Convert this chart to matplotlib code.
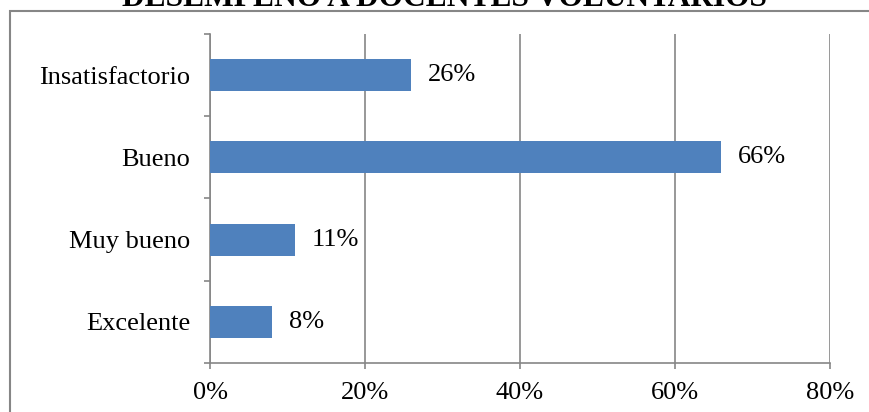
"""Horizontal bar chart: desempeño a docentes voluntarios."""

import matplotlib.pyplot as plt
from matplotlib.patches import Rectangle
from matplotlib.ticker import FixedLocator, PercentFormatter

categories = ["Excelente", "Muy bueno", "Bueno", "Insatisfactorio"]
values = [8, 11, 66, 26]
xticks = [0, 20, 40, 60, 80]
title = "DESEMPEÑO A DOCENTES VOLUNTARIOS"

bar_color = "#4F81BD"
grey = "#868686"
plt.rcParams["font.family"] = ["Liberation Serif", "DejaVu Serif"]

fig = plt.figure(figsize=(8.69, 4.12), dpi=100)
ax = fig.add_axes([0.2417, 0.119, 0.955 - 0.2417, 0.9175 - 0.119])

# chart-area border (cut off at right and bottom, as in the source)
fig.patches.append(Rectangle((0.0115, -0.05), 1.2, 1.05 - 11 / 412,
                             transform=fig.transFigure, fill=False,
                             edgecolor=grey, linewidth=1.5))

pos = range(len(categories))
ax.barh(pos, values, height=0.39, color=bar_color, zorder=3)
for p, v in zip(pos, values):
    ax.annotate(f"{v}%", (v, p), xytext=(12, 0), textcoords="offset points",
                va="center", ha="left", fontsize=19)

ax.set_xlim(0, 80)
ax.set_ylim(-0.5, len(categories) - 0.5)
ax.set_xticks(xticks)
ax.xaxis.set_major_formatter(PercentFormatter(decimals=0))
ax.set_yticks(list(pos))
ax.set_yticklabels(categories)
ax.yaxis.set_minor_locator(FixedLocator([i - 0.5 for i in range(len(categories) + 1)]))

ax.tick_params(axis="y", which="major", length=0, pad=14, labelsize=19)
ax.tick_params(axis="y", which="minor", length=4.5, width=1.2, color=grey)
ax.tick_params(axis="x", length=4, width=1.2, color=grey, pad=10, labelsize=19)

ax.grid(axis="x", color=grey, linewidth=1.2, zorder=0)
ax.set_axisbelow(True)
for s in ("top", "right"):
    ax.spines[s].set_visible(False)
for s in ("left", "bottom"):
    ax.spines[s].set_color(grey)
    ax.spines[s].set_linewidth(1.2)

fig.text(445 / 869, 1.0 - 6 / 412, title, ha="center", va="baseline",
         fontsize=22.7, fontweight="bold")

fig.savefig("out.png", dpi=100)
